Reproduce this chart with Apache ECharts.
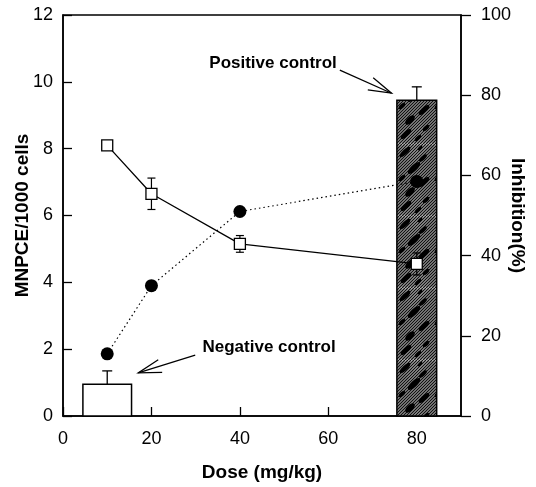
<!DOCTYPE html>
<html>
<head>
<meta charset="utf-8">
<script src="https://cdn.jsdelivr.net/npm/echarts@6/dist/echarts.min.js"></script>
<style>
  html, body { margin: 0; padding: 0; background: #fff; }
  #chart { width: 536px; height: 487px; }
</style>
</head>
<body>
<div id="chart"></div>
<script>
// treated groups
const doses = [10, 20, 40, 80]
const mnpce = [8.1, 6.65, 5.15, 4.55]
const mnpceErr = [0.1, 0.47, 0.25, 0.33]
const inhibition = [15.5, 32.5, 51, 58.5]

// control bars (centre dose, bar width in dose units, value, upper error)
const controlDose = [10, 80]
const controlWidth = [11, 9]
const controlValue = [0.95, 9.45]
const controlErr = [0.4, 0.4]

// annotations, in data units of the left axis
const noteText = ['Negative control', 'Positive control']
const noteTextAt = [[46.6, 2.06], [47.5, 10.56]]
const noteArrow = [[29.9, 1.82, 17.0, 1.29], [62.6, 10.35, 74.3, 9.66]]

const FONT = '"Liberation Sans", Arial, sans-serif'

function makeHatch() {
  const c = document.createElement('canvas')
  c.width = 36
  c.height = 72
  const g = c.getContext('2d')
  g.fillStyle = '#d4d4d4'
  g.fillRect(0, 0, 36, 72)
  g.strokeStyle = '#111'
  g.lineWidth = 1.3
  for (let k = -72; k <= 108; k += 3) {
    g.beginPath()
    g.moveTo(k, 72)
    g.lineTo(k + 72, 0)
    g.stroke()
  }
  // dark streaks like the scanned fill
  g.fillStyle = '#000'
  const blobs = [
    [9, 8, 7, 2.5], [27, 14, 5, 2], [18, 24, 8, 3], [6, 34, 4, 2], [28, 38, 7, 2.5],
    [14, 48, 6, 3], [30, 56, 4, 2], [10, 62, 7, 2.5], [22, 66, 4, 1.8], [24, 4, 3, 1.5],
  ]
  blobs.forEach(([x, y, rx, ry]) => {
    g.beginPath()
    g.ellipse(x, y, rx, ry, -0.75, 0, Math.PI * 2)
    g.fill()
  })
  return c
}
const hatch = { image: makeHatch(), repeat: 'repeat' }

const black = '#000'

function renderControl(params, api) {
  const c = api.value(0), w = api.value(1), v = api.value(2), e = api.value(3)
  const p0 = api.coord([c - w / 2, v])
  const p1 = api.coord([c + w / 2, 0])
  const top = api.coord([c, v + e])
  return {
    type: 'group',
    children: [
      {
        type: 'rect',
        shape: { x: p0[0], y: p0[1], width: p1[0] - p0[0], height: p1[1] - p0[1] },
        style: { fill: params.dataIndex === 1 ? hatch : '#fff', stroke: black, lineWidth: 1.5 },
      },
      { type: 'line', shape: { x1: top[0], y1: p0[1], x2: top[0], y2: top[1] }, style: { stroke: black, lineWidth: 1.3 } },
      { type: 'line', shape: { x1: top[0] - 5, y1: top[1], x2: top[0] + 5, y2: top[1] }, style: { stroke: black, lineWidth: 1.3 } },
    ],
  }
}

function renderErr(params, api) {
  const lo = api.coord([api.value(0), api.value(1)])
  const hi = api.coord([api.value(0), api.value(2)])
  const s = { stroke: black, lineWidth: 1.2 }
  return {
    type: 'group',
    children: [
      { type: 'line', shape: { x1: lo[0], y1: lo[1], x2: hi[0], y2: hi[1] }, style: s },
      { type: 'line', shape: { x1: lo[0] - 4, y1: lo[1], x2: lo[0] + 4, y2: lo[1] }, style: s },
      { type: 'line', shape: { x1: hi[0] - 4, y1: hi[1], x2: hi[0] + 4, y2: hi[1] }, style: s },
    ],
  }
}

function renderNote(params, api) {
  const i = params.dataIndex
  const a = api.coord([api.value(0), api.value(1)])
  const b = api.coord([api.value(2), api.value(3)])
  const t = api.coord(noteTextAt[i])
  const ang = Math.atan2(a[1] - b[1], a[0] - b[0])
  const L = 24, spread = 0.28
  const b1 = [b[0] + L * Math.cos(ang + spread), b[1] + L * Math.sin(ang + spread)]
  const b2 = [b[0] + L * Math.cos(ang - spread), b[1] + L * Math.sin(ang - spread)]
  const s = { stroke: black, lineWidth: 1.2, fill: null }
  return {
    type: 'group',
    children: [
      { type: 'polyline', shape: { points: [a, b] }, style: s },
      { type: 'polyline', shape: { points: [b1, b, b2] }, style: s },
      {
        type: 'text', x: t[0], y: t[1],
        style: { text: noteText[i], font: 'bold 17px ' + FONT, fill: black, align: 'center', verticalAlign: 'middle' },
      },
    ],
  }
}

const axisText = { color: black, fontSize: 18, fontFamily: FONT }
const nameText = { color: black, fontSize: 19, fontWeight: 'bold', fontFamily: FONT }

const chart = echarts.init(document.getElementById('chart'))
chart.setOption({
  animation: false,
  backgroundColor: '#fff',
  grid: {
    left: 63, right: 75, top: 15, bottom: 71,
    outerBoundsMode: 'none', containLabel: false,
    show: true, borderColor: black, borderWidth: 1.5,
  },
  xAxis: {
    type: 'value', min: 0, max: 90, interval: 20,
    name: 'Dose (mg/kg)', nameLocation: 'middle', nameGap: 47, nameMoveOverlap: false, nameTextStyle: nameText,
    axisLine: { lineStyle: { color: black, width: 1.5 } },
    axisTick: { inside: true, length: 9, lineStyle: { color: black, width: 1.3 } },
    axisLabel: { ...axisText, margin: 14, showMaxLabel: false },
    splitLine: { show: false },
  },
  yAxis: [
    {
      type: 'value', min: 0, max: 12, interval: 2, position: 'left',
      name: 'MNPCE/1000 cells', nameLocation: 'middle', nameGap: 31, nameRotate: 90, nameMoveOverlap: false, nameTextStyle: nameText,
      axisLine: { lineStyle: { color: black, width: 1.5 } },
      axisTick: { inside: true, length: 9, lineStyle: { color: black, width: 1.3 } },
      axisLabel: { ...axisText, margin: 10 },
      splitLine: { show: false },
    },
    {
      type: 'value', min: 0, max: 100, interval: 20, position: 'right',
      name: 'Inhibition(%)', nameLocation: 'middle', nameGap: 47, nameRotate: -90, nameMoveOverlap: false, nameTextStyle: nameText,
      axisLine: { lineStyle: { color: black, width: 1.5 } },
      axisTick: { inside: false, length: 10, lineStyle: { color: black, width: 1.3 } },
      axisLabel: { ...axisText, margin: 20 },
      splitLine: { show: false },
    },
  ],
  series: [
    {
      type: 'custom', name: 'Controls', z: 1, yAxisIndex: 0,
      renderItem: renderControl,
      data: controlDose.map((d, i) => [d, controlWidth[i], controlValue[i], controlErr[i]]),
    },
    {
      type: 'custom', name: 'MNPCE error', z: 2, yAxisIndex: 0,
      renderItem: renderErr,
      data: doses.map((d, i) => [d, mnpce[i] - mnpceErr[i], mnpce[i] + mnpceErr[i]]),
    },
    {
      type: 'line', name: 'MNPCE', z: 4, yAxisIndex: 0,
      data: doses.map((d, i) => [d, mnpce[i]]),
      symbol: 'rect', symbolSize: 11,
      itemStyle: { color: '#fff', borderColor: black, borderWidth: 1.3 },
      lineStyle: { color: black, width: 1.3 },
    },
    {
      type: 'line', name: 'Inhibition', z: 3, yAxisIndex: 1,
      data: doses.map((d, i) => [d, inhibition[i]]),
      symbol: 'circle', symbolSize: 13,
      itemStyle: { color: black },
      lineStyle: { color: black, width: 1.2, type: [1.5, 3] },
    },
    {
      type: 'custom', name: 'Notes', z: 5, yAxisIndex: 0,
      renderItem: renderNote,
      data: noteArrow,
    },
  ],
})
</script>
</body>
</html>
